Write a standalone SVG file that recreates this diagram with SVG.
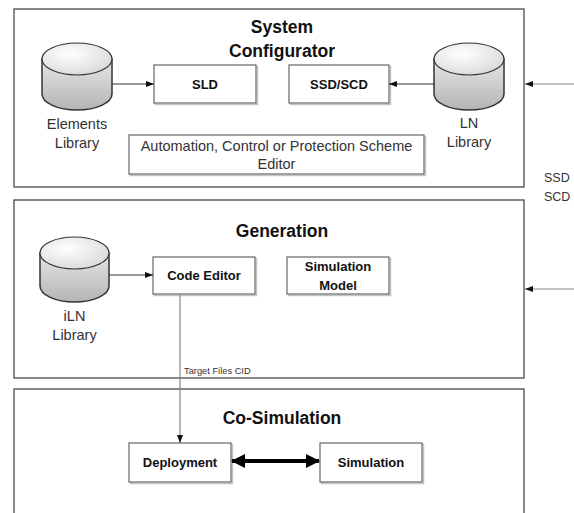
<svg xmlns="http://www.w3.org/2000/svg" width="574" height="513" viewBox="0 0 574 513">
<style>
.panel{fill:#fff;stroke:#4a4a4a;stroke-width:1.3}
.box{fill:#fff;stroke:#666;stroke-width:1.2}
.shadow{fill:none;stroke:#c4c4c4;stroke-width:1.5}
.title{font-family:"Liberation Sans",Arial,sans-serif;font-weight:bold;font-size:17.5px;fill:#111;text-anchor:middle}
.blabel{font-family:"Liberation Sans",Arial,sans-serif;font-weight:bold;font-size:13px;fill:#111;text-anchor:middle}
.label{font-family:"Liberation Sans",Arial,sans-serif;font-size:14.5px;fill:#333;text-anchor:middle}
.small{font-family:"Liberation Sans",Arial,sans-serif;font-size:9.3px;fill:#333}
.side{font-family:"Liberation Sans",Arial,sans-serif;font-size:12.5px;fill:#333}
.cylbody{fill:url(#gBody);stroke:#333;stroke-width:1.5}
.cyltop{fill:url(#gTop);stroke:#333;stroke-width:1.2}
.conn{fill:none;stroke:#333;stroke-width:1}
.connG{fill:none;stroke:#888;stroke-width:1.2}
.thick{fill:none;stroke:#000;stroke-width:4}
</style>
<defs>
<linearGradient id="gBody" x1="0" y1="0" x2="0" y2="1">
<stop offset="0" stop-color="#e6e6e6"/>
<stop offset="1" stop-color="#b4b4b4"/>
</linearGradient>
<radialGradient id="gTop" cx="0.4" cy="0.35" r="0.8">
<stop offset="0" stop-color="#ffffff"/>
<stop offset="1" stop-color="#d4d4d4"/>
</radialGradient>
<marker id="ah" viewBox="0 0 8 6" refX="8" refY="3" markerWidth="8" markerHeight="6" markerUnits="userSpaceOnUse" orient="auto">
<path d="M0,0 L8,3 L0,6 Z" fill="#111"/>
</marker>
<marker id="ahBig" viewBox="0 0 14 14" refX="13" refY="7" markerWidth="14" markerHeight="14" markerUnits="userSpaceOnUse" orient="auto-start-reverse">
<path d="M0,0 L14,7 L0,14 Z" fill="#000"/>
</marker>
</defs>

<g id="panel-system-configurator">
<rect class="panel" x="14" y="9" width="510" height="178"/>
<text class="title" x="282" y="33">System</text>
<text class="title" x="282" y="57">Configurator</text>
</g>
<g id="panel-generation">
<rect class="panel" x="14" y="200" width="510" height="178"/>
<text class="title" x="282" y="237">Generation</text>
</g>
<g id="panel-co-simulation">
<rect class="panel" x="14" y="389" width="510" height="140"/>
<text class="title" x="282" y="424">Co-Simulation</text>
</g>

<g id="elements-library">
<path class="cylbody" d="M42,59 L42,94 A35,16 0 0 0 112,94 L112,59 Z"/>
<ellipse class="cyltop" cx="77" cy="59" rx="35" ry="16"/>
<text class="label" x="77" y="129">Elements</text>
<text class="label" x="77" y="148">Library</text>
</g>
<g id="ln-library">
<path class="cylbody" d="M434,59 L434,94 A35,16 0 0 0 504,94 L504,59 Z"/>
<ellipse class="cyltop" cx="469" cy="59" rx="35" ry="16"/>
<text class="label" x="469" y="128">LN</text>
<text class="label" x="469" y="147">Library</text>
</g>
<g id="sld">
<rect class="shadow" x="155.5" y="66.5" width="102" height="38"/>
<rect class="box" x="154" y="65" width="102" height="38"/>
<text class="blabel" x="205" y="89">SLD</text>
</g>
<g id="ssd-scd">
<rect class="shadow" x="290.5" y="66.5" width="100" height="38"/>
<rect class="box" x="289" y="65" width="100" height="38"/>
<text class="blabel" x="339" y="89">SSD/SCD</text>
</g>
<g id="scheme-editor">
<rect class="shadow" x="130.5" y="136.5" width="295" height="39"/>
<rect class="box" x="129" y="135" width="295" height="39"/>
<text class="label" x="276.5" y="151">Automation, Control or Protection Scheme</text>
<text class="label" x="276.5" y="169">Editor</text>
</g>

<g id="iln-library">
<path class="cylbody" d="M40,253 L40,286 A34.5,16 0 0 0 109,286 L109,253 Z"/>
<ellipse class="cyltop" cx="74.5" cy="253" rx="34.5" ry="16"/>
<text class="label" x="74.5" y="321">iLN</text>
<text class="label" x="74.5" y="340">Library</text>
</g>
<g id="code-editor">
<rect class="shadow" x="154.5" y="258.5" width="102" height="37"/>
<rect class="box" x="153" y="257" width="102" height="37"/>
<text class="blabel" x="204" y="280">Code Editor</text>
</g>
<g id="simulation-model">
<rect class="shadow" x="288.5" y="258.5" width="102" height="37"/>
<rect class="box" x="287" y="257" width="102" height="37"/>
<text class="blabel" x="338" y="271">Simulation</text>
<text class="blabel" x="338" y="290">Model</text>
</g>

<g id="deployment">
<rect class="shadow" x="130.5" y="444.5" width="102" height="39"/>
<rect class="box" x="129" y="443" width="102" height="39"/>
<text class="blabel" x="180" y="467">Deployment</text>
</g>
<g id="simulation">
<rect class="shadow" x="321.5" y="444.5" width="102" height="39"/>
<rect class="box" x="320" y="443" width="102" height="39"/>
<text class="blabel" x="371" y="467">Simulation</text>
</g>

<g id="connectors">
<line class="conn" x1="112" y1="84" x2="154" y2="84" marker-end="url(#ah)"/>
<line class="conn" x1="434" y1="84" x2="389" y2="84" marker-end="url(#ah)"/>
<line class="connG" x1="574" y1="84" x2="525" y2="84" marker-end="url(#ah)"/>
<line class="conn" x1="109" y1="275" x2="153" y2="275" marker-end="url(#ah)"/>
<line class="connG" x1="574" y1="289" x2="525" y2="289" marker-end="url(#ah)"/>
<line class="connG" x1="180" y1="294" x2="180" y2="443" marker-end="url(#ah)"/>
<line class="thick" x1="232" y1="461" x2="319" y2="461" marker-start="url(#ahBig)" marker-end="url(#ahBig)"/>
<text class="small" x="184" y="374">Target Files CID</text>
<text class="side" x="544" y="182">SSD</text>
<text class="side" x="544" y="201">SCD</text>
</g>
</svg>
